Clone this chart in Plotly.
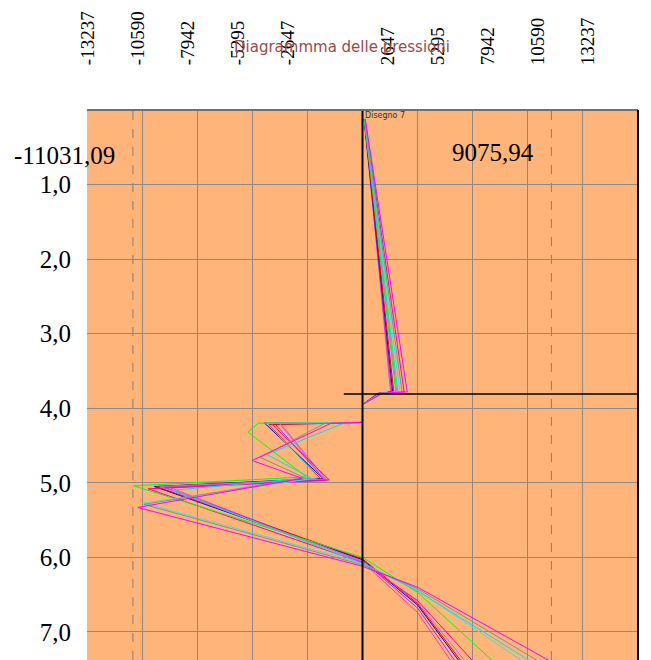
import plotly.graph_objects as go

# ---------------- data ----------------
top_tick_values = [-13237, -10590, -7942, -5295, -2647, 2647, 5295, 7942, 10590, 13237]
grid_step = 2647.4
depth_ticks = [1, 2, 3, 4, 5, 6, 7]
depth_tick_labels = ["1,0", "2,0", "3,0", "4,0", "5,0", "6,0", "7,0"]
extreme_values = [-11031.09, 9075.94]
water_line_x = [-900, 13237]
water_line_depth = [3.81, 3.81]

curve_colors = ["#FF33CC", "#9933FF", "#0000FF", "#FF0000", "#CC66FF", "#FF0099",
                "#00FF00", "#40E0D0", "#00E0E8", "#8C8C8C", "#FF00FF"]

press_pink = [100, 1350, 700, 0, 0, -3900, -1700, -9200, 0, 2650, 4400]
depth_pink = [0.12, 3.78, 3.80, 3.95, 4.19, 4.22, 4.97, 5.07, 6.06, 6.74, 7.45]

press_purple = [70, 1400, 750, 0, 0, -4200, -1800, -9500, 0, 2650, 4600]
depth_purple = [0.12, 3.78, 3.80, 3.95, 4.19, 4.21, 4.96, 5.06, 6.04, 6.68, 7.45]

press_blue = [80, 1450, 800, 0, 0, -4700, -1900, -10000, 0, 2650, 4800]
depth_blue = [0.12, 3.78, 3.80, 3.95, 4.19, 4.20, 4.94, 5.05, 6.03, 6.64, 7.45]

press_red = [80, 1500, 800, 0, 0, -4500, -2000, -9900, 0, 2650, 4900]
depth_red = [0.12, 3.78, 3.80, 3.95, 4.19, 4.22, 4.95, 5.05, 6.02, 6.62, 7.45]

press_violet = [90, 1650, 850, 0, 0, -4000, -1850, -9700, 0, 2650, 5100]
depth_violet = [0.12, 3.78, 3.80, 3.95, 4.19, 4.20, 4.95, 5.05, 6.05, 6.60, 7.45]

press_hotpink = [120, 2000, 950, 0, 0, -4400, -1600, -10300, 0, 2650, 5500]
depth_hotpink = [0.12, 3.78, 3.80, 3.95, 4.19, 4.20, 4.96, 5.08, 6.07, 6.58, 7.45]

press_green = [90, 1600, 900, 0, 0, -5000, -5500, -2700, -11000, 0, 2650, 6500]
depth_green = [0.12, 3.78, 3.80, 3.95, 4.19, 4.20, 4.32, 4.92, 5.04, 6.00, 6.47, 7.45]

press_turquoise = [110, 1800, 900, 0, 0, -4600, -2100, -10500, 0, 2650, 8000]
depth_turquoise = [0.12, 3.78, 3.80, 3.95, 4.19, 4.20, 4.93, 5.27, 6.08, 6.44, 7.45]

press_cyan = [100, 1700, 850, 0, 0, -900, -4600, -2500, -9100, 0, 2650, 8400]
depth_cyan = [0.12, 3.78, 3.80, 3.95, 4.19, 4.20, 4.62, 4.93, 5.10, 6.08, 6.45, 7.45]

press_gray = [110, 1900, 900, 0, 0, -1800, -4900, -2800, -10500, 0, 2650, 8800]
depth_gray = [0.12, 3.78, 3.80, 3.95, 4.19, 4.20, 4.66, 4.93, 5.29, 6.10, 6.42, 7.45]

press_magenta = [130, 2150, 950, 0, 0, -1500, -5300, -2900, -10800, 0, 2650, 9400]
depth_magenta = [0.12, 3.78, 3.80, 3.95, 4.19, 4.20, 4.70, 4.94, 5.33, 6.12, 6.40, 7.45]

curves = [
    (press_pink, depth_pink), (press_purple, depth_purple), (press_blue, depth_blue),
    (press_red, depth_red), (press_violet, depth_violet), (press_hotpink, depth_hotpink),
    (press_green, depth_green), (press_turquoise, depth_turquoise), (press_cyan, depth_cyan),
    (press_gray, depth_gray), (press_magenta, depth_magenta),
]

# ---------------- figure ----------------
SERIF = "Liberation Serif, Times New Roman, serif"
fig = go.Figure()

for (px, dy), col in zip(curves, curve_colors):
    fig.add_trace(go.Scatter(x=px, y=dy, mode="lines", line=dict(color=col, width=1),
                             hoverinfo="skip", showlegend=False))

fig.add_trace(go.Scatter(x=water_line_x, y=water_line_depth, mode="lines",
                         line=dict(color="black", width=1.5), hoverinfo="skip", showlegend=False))

# invisible trace to activate the top axis
fig.add_trace(go.Scatter(x=top_tick_values, y=[0] * len(top_tick_values), xaxis="x2",
                         mode="markers", marker=dict(opacity=0), hoverinfo="skip", showlegend=False))

# top label scale: 50 px per label step over a 551 px wide plot
label_px_per_unit = 50 / grid_step
x2_left = -13237 - 0.7 / label_px_per_unit
x2_right = x2_left + 551 / label_px_per_unit

# the page body has an 8 px margin, so the figure is offset by (8, 8)
grid_vals = [grid_step * k for k in range(-5, 6)]
fig.update_layout(
    width=643, height=652,
    margin=dict(l=79, r=13, t=102, b=0, autoexpand=False),
    paper_bgcolor="white", plot_bgcolor="#FFB57A",
    showlegend=False,
    xaxis=dict(range=[-13237, 13237], tickvals=grid_vals, showticklabels=False,
               showgrid=True, gridcolor="#8A8A8A", gridwidth=1,
               zeroline=False, ticks="", showline=False, fixedrange=True, automargin=False),
    xaxis2=dict(overlaying="x", side="top", range=[x2_left, x2_right],
                tickvals=top_tick_values, ticktext=[str(v) for v in top_tick_values],
                tickangle=-90, tickfont=dict(family=SERIF, size=19, color="black"),
                showgrid=False, zeroline=False, showline=False, automargin=False,
                ticks="outside", ticklen=40, tickcolor="rgba(0,0,0,0)"),
    yaxis=dict(range=[7.376, 0], tickvals=depth_ticks, ticktext=depth_tick_labels,
               tickfont=dict(family=SERIF, size=25, color="black"),
               showgrid=True, gridcolor="#8A8A8A", gridwidth=1, zeroline=False,
               automargin=False,
               ticks="outside", ticklen=10, tickcolor="rgba(0,0,0,0)", showline=False),
)

# zero axis drawn above the curves
fig.add_shape(type="line", xref="x", yref="paper", x0=0, x1=0, y0=0, y1=1,
              line=dict(color="black", width=2), layer="above")

# dashed lines at the extreme values
for v in extreme_values:
    fig.add_shape(type="line", xref="x", yref="paper", x0=v, x1=v, y0=0, y1=1,
                  line=dict(color="#808080", width=1, dash="dash"), layer="below")

# borders
fig.add_shape(type="line", xref="paper", yref="paper", x0=0, x1=1, y0=1, y1=1,
              line=dict(color="#707070", width=2))
fig.add_shape(type="line", xref="paper", yref="paper", x0=1, x1=1, y0=0, y1=1,
              line=dict(color="black", width=2))

def fmt(v):
    return f"{v:.2f}".replace(".", ",")

fig.add_annotation(text=fmt(extreme_values[0]), xref="paper", yref="paper",
                   x=(117 - 87) / 551, y=(660 - 155) / 550, xanchor="right", yanchor="middle",
                   showarrow=False, font=dict(family=SERIF, size=25, color="black"))
fig.add_annotation(text=fmt(extreme_values[1]), xref="paper", yref="paper",
                   x=(493 - 87) / 551, y=(660 - 153) / 550, xanchor="center", yanchor="middle",
                   showarrow=False, font=dict(family=SERIF, size=25, color="black"))
fig.add_annotation(text="Diagrammma delle pressioni", xref="paper", yref="paper",
                   x=(342 - 87) / 551, y=(660 - 47) / 550, xanchor="center", yanchor="middle",
                   showarrow=False, font=dict(family="DejaVu Sans", size=15, color="#9B4A4A"))
fig.add_annotation(text="Disegno 7", xref="paper", yref="paper",
                   x=(363 - 87) / 551, y=(660 - 116) / 550, xanchor="left", yanchor="middle",
                   showarrow=False, font=dict(family="DejaVu Sans", size=8, color="#333333"))

fig.write_html("out.html")
